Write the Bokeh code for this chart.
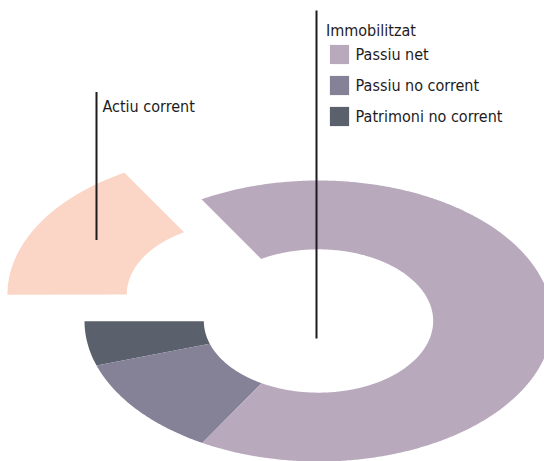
import numpy as np
from bokeh.plotting import figure
from bokeh.models import ColumnDataSource, Label, Legend, LegendItem, Range1d
from bokeh.embed import file_html
from bokeh.resources import INLINE

# ---- data ----
categories = ["Actiu corrent", "Patrimoni no corrent", "Passiu no corrent", "Passiu net"]
values = [16.7, 5.1, 11.6, 66.6]
colors = ["#FBD6C6", "#5A606C", "#858298", "#B9A9BD"]
explode = [0.38, 0.0, 0.0, 0.0]
legend_title = "Immobilitzat"
legend_order = ["Passiu net", "Passiu no corrent", "Patrimoni no corrent"]

# ---- layout constants (page pixels) ----
W, H = 544, 461
CX, CY = 318.0, 320.5      # donut centre on the page
RX, RY = 234.0, 140.5      # outer radii in px (elliptical donut)
INNER_X, INNER_Y = 0.49, 0.51
START_DEG = 120.0

x0 = (0 - CX) / RX
x1 = (W - CX) / RX
y0 = (CY - H) / RY
y1 = (CY - 0) / RY

FONT = "'DejaVu Sans Condensed', 'Liberation Sans Narrow', sans-serif"
FSIZE = "16px"
TXT = "#1E1B1C"

# ---- slice geometry ----
total = float(sum(values))
xs, ys = [], []
a = np.deg2rad(START_DEG)
for v, ex in zip(values, explode):
    span = 2 * np.pi * v / total
    n = max(8, int(np.degrees(span) * 2))
    t = np.linspace(a, a + span, n)
    mid = a + span / 2
    ox, oy = ex * np.cos(mid), ex * np.sin(mid)
    px = np.concatenate([np.cos(t), INNER_X * np.cos(t[::-1])]) + ox
    py = np.concatenate([np.sin(t), INNER_Y * np.sin(t[::-1])]) + oy
    xs.append(list(px))
    ys.append(list(py))
    a += span

src = ColumnDataSource(dict(xs=xs, ys=ys, color=colors, label=categories))

p = figure(width=W, height=H, output_backend="svg", toolbar_location=None,
           x_axis_type=None, y_axis_type=None,
           x_range=Range1d(x0, x1), y_range=Range1d(y0, y1),
           min_border=0, min_border_left=0, min_border_right=0,
           min_border_top=0, min_border_bottom=0)
p.grid.visible = False
p.outline_line_color = None
p.background_fill_color = "white"

r = p.patches("xs", "ys", source=src, fill_color="color", line_color=None)

def dx(px):
    return (px - CX) / RX

def dy(py):
    return (CY - py) / RY

# leader lines
p.segment(x0=[dx(316), dx(96)], y0=[dy(10), dy(91.5)],
          x1=[dx(316), dx(96)], y1=[dy(338), dy(239.5)],
          line_color=TXT, line_width=2)

# labels
p.add_layout(Label(x=dx(325.5), y=dy(30), text=legend_title, text_font=FONT,
                   text_font_size=FSIZE, text_color=TXT, text_baseline="alphabetic"))
p.add_layout(Label(x=dx(102), y=dy(105.5), text=categories[0], text_font=FONT,
                   text_font_size=FSIZE, text_color=TXT, text_baseline="alphabetic"))

items = [LegendItem(label=lab, renderers=[r], index=categories.index(lab)) for lab in legend_order]
legend = Legend(items=items, location=(326.6, 333), padding=0, margin=0,
                border_line_color=None, background_fill_alpha=0,
                glyph_width=24, glyph_height=24, label_height=24,
                label_standoff=5, spacing=7,
                label_text_font=FONT, label_text_font_size=FSIZE,
                label_text_color=TXT)
p.add_layout(legend, "center")

open("out.html", "w").write(file_html(p, INLINE))
